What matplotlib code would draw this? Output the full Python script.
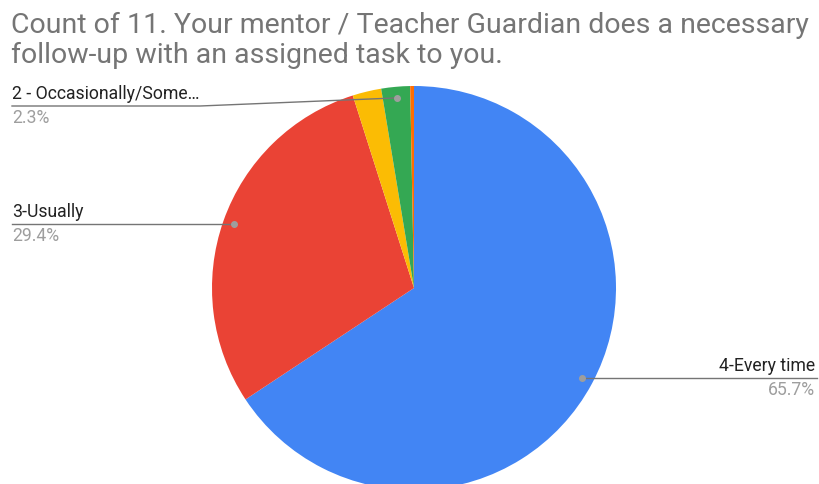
import numpy as np
import matplotlib.pyplot as plt

plt.rcParams['font.family'] = ['Roboto', 'DejaVu Sans']

titulo = "Count of 11. Your mentor / Teacher Guardian does a necessary\nfollow-up with an assigned task to you."
categorias = ["4-Every time", "3-Usually", "1-Rarely", "2 - Occasionally/Some\u2026", "0-Never"]
percentuais = [65.7, 29.4, 2.3, 2.3, 0.3]
cores = ["#4285F4", "#EA4335", "#FBBC04", "#34A853", "#FF6D01"]
mostrar_rotulo = [True, True, False, True, False]

W, H = 819, 484
cx, cy, R = 414, H - 288, 202

fig = plt.figure(figsize=(W / 100, H / 100), dpi=100)
ax = fig.add_axes([0, 0, 1, 1])

ax.pie(percentuais, colors=cores, startangle=90, counterclock=False,
       center=(cx, cy), radius=R, wedgeprops=dict(linewidth=0), frame=True)
ax.set_xlim(0, W)
ax.set_ylim(0, H)
ax.set_aspect("auto")
ax.axis("off")

fig.text(11 / W, 1 - 12 / H, titulo, ha="left", va="top", fontsize=20.5,
         color="#757575", linespacing=1.12)

# angulos medios de cada fatia
inicio = 90.0
for nome, p, mostrar in zip(categorias, percentuais, mostrar_rotulo):
    meio = inicio - p * 3.6 / 2
    inicio -= p * 3.6
    if not mostrar:
        continue
    a = np.radians(meio)
    px = cx + 0.945 * R * np.cos(a)
    py = cy + 0.945 * R * np.sin(a)
    ax.plot(px, py, "o", color="#9e9e9e", markersize=4, zorder=5)
    if np.cos(a) >= 0:
        ly = py
        ax.plot([px, W - 2], [ly, ly], color="#757575", lw=1, zorder=4)
        ax.text(W - 4, ly + 3, nome, ha="right", va="bottom", fontsize=12.7, color="#222222")
        ax.text(W - 4, ly - 3, f"{p:.1f}%", ha="right", va="top", fontsize=12.7, color="#9e9e9e")
    else:
        ly = py if py < H - 150 else H - 106
        xq = 200 if ly != py else px
        ax.plot([px, xq, 12], [py, ly, ly], color="#757575", lw=1, zorder=4)
        ax.text(12, ly + 3, nome, ha="left", va="bottom", fontsize=12.7, color="#222222")
        ax.text(12, ly - 3, f"{p:.1f}%", ha="left", va="top", fontsize=12.7, color="#9e9e9e")

fig.savefig("out.png", dpi=100)
